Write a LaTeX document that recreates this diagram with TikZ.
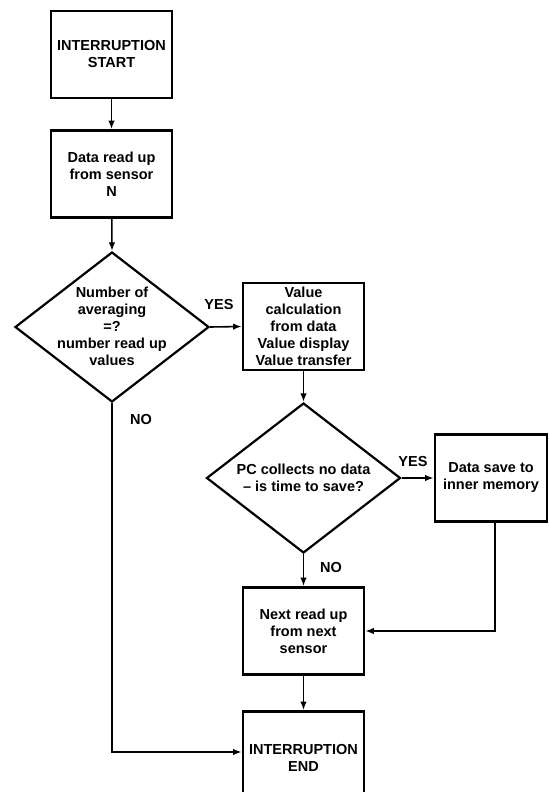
\documentclass[tikz,border=0pt]{standalone}
\usepackage{fontspec}
\setmainfont{Liberation Sans}
\usetikzlibrary{shapes.geometric,arrows.meta}
\begin{document}
\begin{tikzpicture}[x=1pt,y=-1pt,
  every node/.style={font=\bfseries\fontsize{14.5}{17}\selectfont, align=center, inner sep=0pt},
  boxnode/.style={draw, line width=2.8pt, minimum width=121pt, minimum height=87pt},
  dia/.style={draw, diamond, line width=2.2pt, minimum width=194pt, minimum height=150pt},
  conn/.style={line width=1.6pt, -{Latex[length=8.5pt,width=6.5pt]}},
  plain/.style={line width=1.6pt}]
\useasboundingbox (0,0) rectangle (549,792);
\clip (0,0) rectangle (549,792);
\fill[white] (0,0) rectangle (549,792);

\node[boxnode] (b1) at (111.5,54.5) {INTERRUPTION\\START};
\node[boxnode] (b2) at (111.5,174) {Data read up\\from sensor\\N};
\node[dia] (d1) at (112,327) {};
\node (t1) at (112,326) {Number of\\averaging\\=?\\number read up\\values};
\node[boxnode] (b3) at (303.5,326.5) {Value\\calculation\\from data\\Value display\\Value transfer};
\node[dia] (d2) at (303.5,478) {};
\node (t2) at (303.5,478) {PC collects no data\\-- is time to save?};
\node[boxnode, minimum width=112pt] (b4) at (491,478) {Data save to\\inner memory};
\node[boxnode] (b5) at (303.5,631) {Next read up\\from next\\sensor};
\node[boxnode] (b6) at (303.5,755) {\\[-2pt]INTERRUPTION\\END};

\node (y1) at (219,305) {YES};
\node (n1) at (141,420) {NO};
\node (y2) at (413,462) {YES};
\node (n2) at (331,568) {NO};

\coordinate (m4) at (495,0);

\draw[conn] (b1) -- (b2);
\draw[conn] (b2) -- (d1.north);
\draw[conn] (d1.east) -- (b3.west);
\draw[conn] (b3) -- (d2.north);
\draw[conn] (d2.east) -- (b4.west);
\draw[conn] (d2.south) -- (b5.north);
\draw[conn] (b4.south -| m4) |- (b5.east);
\draw[conn] (b5) -- (b6);
\draw[conn] (d1.south) |- ([yshift=3pt]b6.west);
\end{tikzpicture}
\end{document}
